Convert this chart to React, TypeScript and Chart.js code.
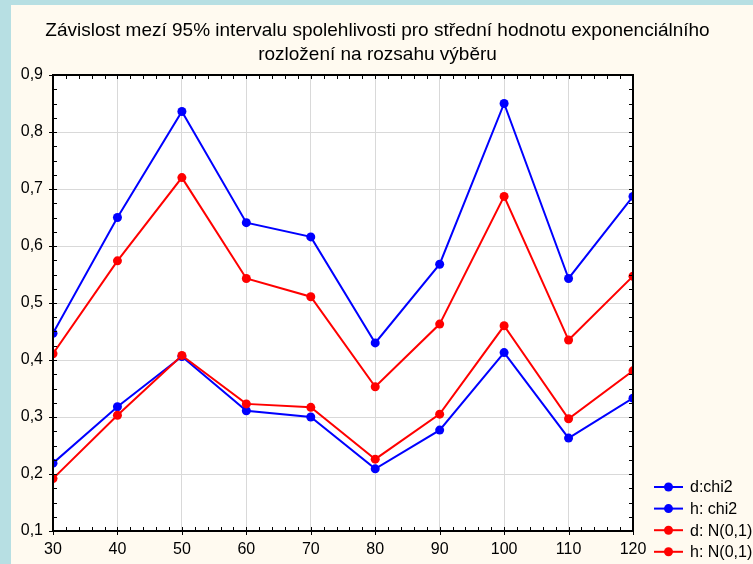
import React, { useEffect, useRef } from "react";
import { Chart, registerables } from "chart.js";

Chart.register(...registerables);

// Sample sizes (x axis)
const sampleSizes = [30, 40, 50, 60, 70, 80, 90, 100, 110, 120];

// Lower (d) and upper (h) 95% confidence limits
const dChi2 = [0.219, 0.318, 0.406, 0.311, 0.300, 0.209, 0.277, 0.413, 0.263, 0.333];
const hChi2 = [0.447, 0.650, 0.836, 0.641, 0.616, 0.430, 0.568, 0.850, 0.543, 0.687];
const dNorm = [0.192, 0.303, 0.408, 0.323, 0.317, 0.226, 0.305, 0.460, 0.297, 0.381];
const hNorm = [0.411, 0.574, 0.720, 0.543, 0.511, 0.353, 0.463, 0.687, 0.435, 0.547];

const seriesLabels = ["d:chi2", "h: chi2", "d: N(0,1)", "h: N(0,1)"];
const seriesColors = ["#0000ff", "#0000ff", "#ff0000", "#ff0000"];

const titleLines = [
  "Závislost mezí 95% intervalu spolehlivosti pro střední hodnotu exponenciálního",
  "rozložení na rozsahu výběru",
];

const X_MIN = 30;
const X_MAX = 120;
const X_STEP = 10;
const X_MINOR = 2;
const Y_MIN = 0.1;
const Y_MAX = 0.9;
const Y_STEP = 0.1;
const Y_MINOR = 0.025;

const FONT = "Arial, 'Liberation Sans', sans-serif";

const framePlugin = {
  id: "statFrame",
  beforeDraw(chart: any) {
    const { ctx, width, height, chartArea: a } = chart;
    ctx.save();
    ctx.fillStyle = "#b7dfe3";
    ctx.fillRect(0, 0, width, height);
    ctx.fillStyle = "#fffaf0";
    ctx.fillRect(11, 5, width - 11, height - 5);
    ctx.fillStyle = "#ffffff";
    ctx.fillRect(a.left, a.top, a.right - a.left, a.bottom - a.top);
    ctx.restore();
  },
  afterDraw(chart: any) {
    const { ctx, chartArea: a, scales, width } = chart;
    const xs = scales.x;
    const ys = scales.y;
    ctx.save();

    // tick marks: minor ticks inside on all four sides, major ticks also outside
    ctx.strokeStyle = "#000000";
    ctx.lineWidth = 1;
    ctx.beginPath();
    const nx = Math.round((X_MAX - X_MIN) / X_MINOR);
    for (let k = 0; k <= nx; k++) {
      const v = X_MIN + k * X_MINOR;
      const px = Math.round(xs.getPixelForValue(v)) + 0.5;
      const major = Math.abs(v / X_STEP - Math.round(v / X_STEP)) < 1e-6;
      ctx.moveTo(px, a.bottom - 4);
      ctx.lineTo(px, major ? a.bottom + 4 : a.bottom);
      ctx.moveTo(px, a.top);
      ctx.lineTo(px, a.top + 4);
    }
    const ny = Math.round((Y_MAX - Y_MIN) / Y_MINOR);
    for (let k = 0; k <= ny; k++) {
      const v = Y_MIN + k * Y_MINOR;
      const py = Math.round(ys.getPixelForValue(v)) + 0.5;
      const major = k % 4 === 0;
      ctx.moveTo(major ? a.left - 4 : a.left, py);
      ctx.lineTo(a.left + 4, py);
      ctx.moveTo(a.right - 4, py);
      ctx.lineTo(a.right, py);
    }
    ctx.stroke();

    // plot frame
    ctx.lineWidth = 2;
    ctx.strokeRect(a.left, a.top, a.right - a.left, a.bottom - a.top);

    // title
    ctx.fillStyle = "#000000";
    ctx.font = `19px ${FONT}`;
    ctx.textAlign = "center";
    ctx.textBaseline = "middle";
    titleLines.forEach((line, i) => {
      ctx.fillText(line, width / 2 + 1, 31 + i * 24);
    });

    // legend
    ctx.font = `16px ${FONT}`;
    ctx.textAlign = "left";
    chart.data.datasets.forEach((ds: any, i: number) => {
      const y = 487 + i * 21.6;
      ctx.strokeStyle = ds.borderColor;
      ctx.lineWidth = 2;
      ctx.beginPath();
      ctx.moveTo(654, y);
      ctx.lineTo(683, y);
      ctx.stroke();
      ctx.fillStyle = ds.borderColor;
      ctx.beginPath();
      ctx.arc(668.5, y, 4.5, 0, Math.PI * 2);
      ctx.fill();
      ctx.fillStyle = "#000000";
      ctx.fillText(ds.label, 690, y + 1);
    });

    ctx.restore();
  },
};

export default function App() {
  const canvasRef = useRef<HTMLCanvasElement | null>(null);

  useEffect(() => {
    const canvas = canvasRef.current;
    if (!canvas) return;
    const seriesValues = [dChi2, hChi2, dNorm, hNorm];
    const chart = new Chart(canvas, {
      type: "line",
      data: {
        datasets: seriesValues.map((vals, i) => ({
          label: seriesLabels[i],
          data: sampleSizes.map((x, j) => ({ x, y: vals[j] })),
          borderColor: seriesColors[i],
          backgroundColor: seriesColors[i],
          borderWidth: 2,
          pointRadius: 4.5,
          pointHoverRadius: 4.5,
          pointBorderWidth: 0,
          tension: 0,
          fill: false,
          clip: 0,
          order: i >= 2 ? 0 : 1,
        })),
      },
      options: {
        animation: false,
        responsive: false,
        devicePixelRatio: 1,
        events: [],
        layout: { padding: { left: 0, top: 75, right: 120, bottom: 0 } },
        plugins: {
          legend: { display: false },
          title: { display: false },
          tooltip: { enabled: false },
        },
        scales: {
          x: {
            type: "linear",
            min: X_MIN,
            max: X_MAX,
            border: { display: false },
            grid: { color: "#d9d9d9", lineWidth: 1, drawTicks: false },
            ticks: {
              stepSize: X_STEP,
              color: "#000000",
              font: { family: FONT, size: 16 },
              padding: 9,
              maxRotation: 0,
            },
            afterFit: (scale: any) => {
              scale.height = 33;
            },
          },
          y: {
            type: "linear",
            min: Y_MIN,
            max: Y_MAX,
            border: { display: false },
            grid: { color: "#d9d9d9", lineWidth: 1, drawTicks: false },
            ticks: {
              stepSize: Y_STEP,
              color: "#000000",
              font: { family: FONT, size: 16 },
              padding: 10,
              callback: (v: any) => Number(v).toFixed(1).replace(".", ","),
            },
            afterFit: (scale: any) => {
              scale.width = 53;
            },
          },
        },
      },
      plugins: [framePlugin],
    });
    return () => chart.destroy();
  }, []);

  return (
    <div style={{ position: "absolute", left: 0, top: 0, width: 753, height: 564 }}>
      <canvas ref={canvasRef} width={753} height={564} style={{ width: 753, height: 564, display: "block" }} />
    </div>
  );
}
